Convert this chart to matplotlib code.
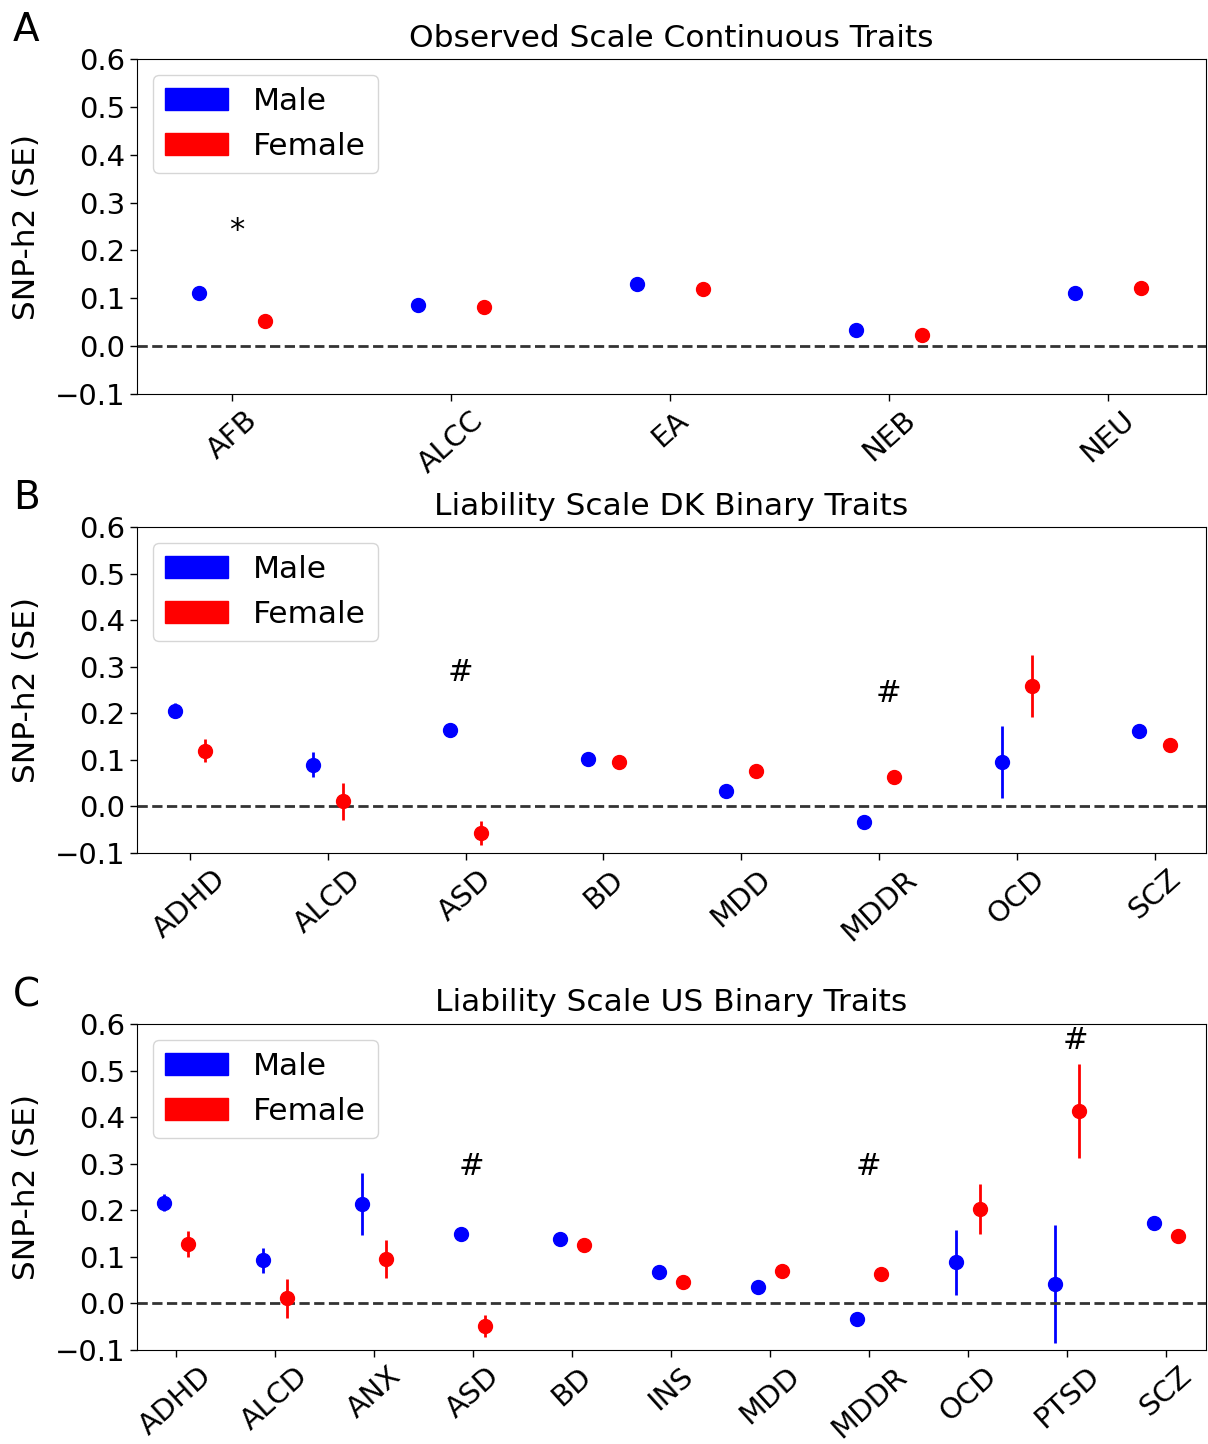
import matplotlib
matplotlib.use('Agg')
import matplotlib.pyplot as plt
from matplotlib.patches import Patch

# Panel A - observed scale continuous traits
traits_a = ['AFB', 'ALCC', 'EA', 'NEB', 'NEU']
male_a = [0.112, 0.086, 0.130, 0.034, 0.112]
male_a_se = [0.006, 0.005, 0.006, 0.006, 0.006]
female_a = [0.052, 0.082, 0.119, 0.023, 0.121]
female_a_se = [0.006, 0.005, 0.006, 0.006, 0.006]
marks_a = [('*', 0.02, 0.242)]

# Panel B - liability scale DK binary traits
traits_b = ['ADHD', 'ALCD', 'ASD', 'BD', 'MDD', 'MDDR', 'OCD', 'SCZ']
male_b = [0.206, 0.090, 0.165, 0.101, 0.034, -0.033, 0.095, 0.162]
male_b_se = [0.017, 0.026, 0.010, 0.008, 0.010, 0.010, 0.077, 0.010]
female_b = [0.120, 0.011, -0.057, 0.095, 0.076, 0.063, 0.258, 0.132]
female_b_se = [0.025, 0.040, 0.026, 0.008, 0.008, 0.010, 0.067, 0.008]
marks_b = [('#', 1.96, 0.288), ('#', 5.07, 0.243)]

# Panel C - liability scale US binary traits
traits_c = ['ADHD', 'ALCD', 'ANX', 'ASD', 'BD', 'INS', 'MDD', 'MDDR', 'OCD', 'PTSD', 'SCZ']
male_c = [0.216, 0.093, 0.213, 0.149, 0.138, 0.068, 0.036, -0.034, 0.088, 0.042, 0.173]
male_c_se = [0.018, 0.027, 0.067, 0.008, 0.008, 0.008, 0.010, 0.012, 0.070, 0.126, 0.010]
female_c = [0.127, 0.011, 0.096, -0.048, 0.125, 0.047, 0.070, 0.063, 0.203, 0.413, 0.145]
female_c_se = [0.028, 0.042, 0.041, 0.024, 0.008, 0.008, 0.008, 0.008, 0.053, 0.101, 0.008]
marks_c = [('#', 2.98, 0.293), ('#', 6.99, 0.295), ('#', 9.09, 0.565)]

panels = [
    ('A', 'Observed Scale Continuous Traits', traits_a, male_a, male_a_se, female_a, female_a_se, marks_a, 0.15),
    ('B', 'Liability Scale DK Binary Traits', traits_b, male_b, male_b_se, female_b, female_b_se, marks_b, 0.11),
    ('C', 'Liability Scale US Binary Traits', traits_c, male_c, male_c_se, female_c, female_c_se, marks_c, 0.12),
]

fig = plt.figure(figsize=(12.08, 14.44), dpi=100)
boxes = [(0.1134, 0.7271, 0.8846, 0.2320),
         (0.1134, 0.4093, 0.8846, 0.2257),
         (0.1134, 0.0651, 0.8846, 0.2258)]
xlims = [(-0.434, 4.447), (-0.384, 7.37), (-0.394, 10.40)]

for box, xl, (letter, title, names, m, mse, f, fse, marks, off) in zip(boxes, xlims, panels):
    ax = fig.add_axes(box)
    x = list(range(len(names)))
    ax.errorbar([i - off for i in x], m, yerr=mse, fmt='o', color='blue',
                ms=10, elinewidth=2, capsize=0)
    ax.errorbar([i + off for i in x], f, yerr=fse, fmt='o', color='red',
                ms=10, elinewidth=2, capsize=0)
    ax.axhline(0, color='#333333', ls='--', lw=2)
    for sym, sx, sy in marks:
        ax.text(sx, sy, sym, ha='center', va='center', fontsize=22)
    ax.set_xlim(xl)
    ax.set_ylim(-0.1, 0.6)
    ax.set_yticks([-0.1, 0.0, 0.1, 0.2, 0.3, 0.4, 0.5, 0.6])
    ax.set_yticklabels(['\u22120.1', '0.0', '0.1', '0.2', '0.3', '0.4', '0.5', '0.6'])
    ax.set_xticks(x)
    ax.set_xticklabels(names, rotation=42)
    ax.tick_params(labelsize=21, length=5, width=1)
    ax.set_ylabel('SNP-h2 (SE)', fontsize=22.5, labelpad=10)
    ax.set_title(title, fontsize=22.5, pad=9)
    handles = [Patch(color='blue', label='Male'), Patch(color='red', label='Female')]
    ax.legend(handles=handles, loc='upper left', fontsize=22.5)
    ax.text(-0.116, 1.03, letter, transform=ax.transAxes, fontsize=28, ha='left', va='bottom')

plt.savefig('out.png', dpi=100)
